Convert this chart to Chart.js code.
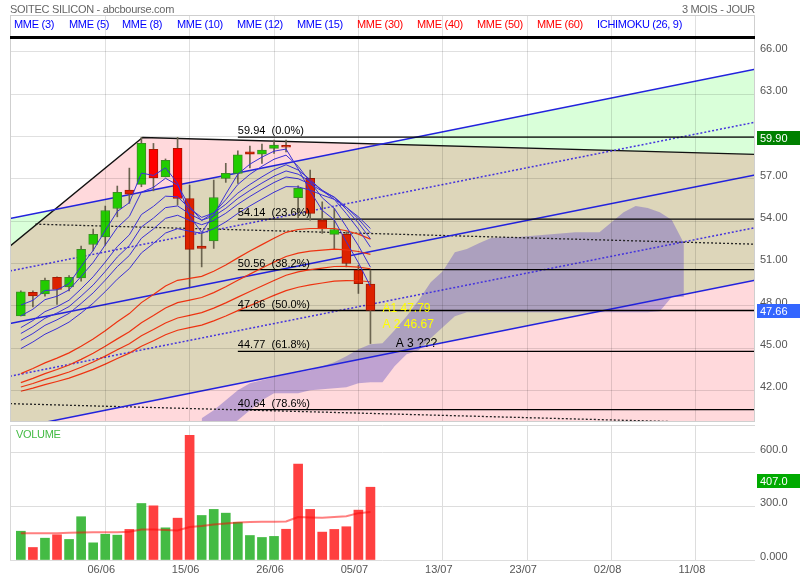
<!DOCTYPE html>
<html lang="fr">
<head>
<meta charset="utf-8">
<title>SOITEC SILICON</title>
<script src="https://cdn.jsdelivr.net/npm/chart.js@4.4.1/dist/chart.umd.min.js"></script>
<style>
  html, body { margin: 0; padding: 0; background: #fff; }
  #page { position: relative; width: 800px; height: 580px; overflow: hidden; font-family: "Liberation Sans", Arial, sans-serif; }
  canvas { position: absolute; left: 0; }
  #price { top: 0; }
  #volume { top: 424px; }
  .lbl { position: absolute; font-size: 11px; line-height: 12px; white-space: nowrap; letter-spacing: -0.3px; }
</style>
</head>
<body>
<div id="page">
  <canvas id="price" width="800" height="424"></canvas>
  <canvas id="volume" width="800" height="156"></canvas>
  <div class="lbl" style="left:10px;top:3px;color:#666">SOITEC SILICON - abcbourse.com</div>
  <div class="lbl" style="right:45px;top:3px;color:#666">3 MOIS - JOUR</div>
  <div class="lbl" style="left:16px;top:428px;color:#44bb44">VOLUME</div>
  <div id="legend"></div>
</div>
<script>
// axes
const dateLabels = ['06/06', '15/06', '26/06', '05/07', '13/07', '23/07', '02/08', '11/08'];
const gridDays = [7, 14, 21, 28, 35, 42, 49, 56];
const priceTicks = [42, 45, 48, 51, 54, 57, 60, 63, 66];
const volTicks = [0, 300, 600];
const volTickLabels = ['0.000', '300.0', '600.0'];

// bougies (30 seances)
const opens  = [47.28, 48.94, 48.84, 50.02, 49.33, 49.97, 52.34, 52.88, 54.89, 56.19, 56.60, 59.08, 57.13, 59.15, 55.60, 52.22, 52.60, 57.02, 57.38, 58.91, 58.74, 59.15, 59.36, 55.65, 57.02, 54.06, 53.05, 53.05, 50.52, 49.53];
const highs  = [49.05, 49.05, 49.95, 50.05, 50.14, 52.22, 53.43, 55.06, 56.48, 57.75, 59.94, 59.50, 58.40, 59.93, 56.55, 53.16, 56.90, 58.09, 58.98, 59.31, 59.45, 59.74, 59.74, 56.50, 57.61, 55.36, 54.89, 53.23, 50.87, 50.52];
const lows   = [47.28, 47.91, 48.67, 48.10, 49.05, 49.74, 51.89, 52.29, 54.30, 55.25, 56.43, 56.14, 57.13, 55.13, 49.33, 50.75, 52.06, 56.74, 56.67, 57.77, 58.09, 58.79, 58.90, 54.18, 54.06, 53.12, 51.99, 50.75, 48.87, 45.32];
const closes = [48.98, 48.70, 49.79, 49.15, 50.02, 51.99, 53.05, 54.75, 56.03, 55.91, 59.50, 57.06, 58.30, 55.60, 51.99, 52.06, 55.67, 57.38, 58.70, 58.74, 59.03, 59.38, 59.24, 56.31, 54.54, 53.45, 53.40, 50.99, 49.57, 47.66];
const brightRed = [11, 13];

// volumes
const volumes = [161, 70, 122, 141, 115, 242, 96, 144, 139, 171, 316, 303, 180, 234, 697, 249, 283, 262, 210, 137, 126, 132, 172, 537, 283, 156, 171, 186, 279, 407];
const volMA   = [150, 150, 150, 150, 152, 154, 155, 155, 155, 158, 170, 170, 168, 165, 185, 190, 198, 204, 210, 213, 214, 214, 215, 240, 238, 236, 240, 245, 262, 268];

// moyennes mobiles exponentielles
const mme3  = [48.05, 48.38, 49.08, 49.12, 49.57, 50.78, 51.92, 53.33, 54.68, 55.30, 57.40, 57.23, 57.77, 56.68, 54.34, 53.20, 54.43, 55.91, 57.32, 58.03, 58.53, 58.95, 59.10, 57.70, 56.12, 54.76, 54.08, 52.53, 51.05, 49.36];
const mme5  = [47.28, 47.75, 48.43, 48.67, 49.12, 50.08, 51.07, 52.30, 53.54, 54.33, 56.05, 56.39, 57.03, 56.55, 55.03, 54.04, 54.58, 55.51, 56.59, 57.31, 57.88, 58.38, 58.67, 57.88, 56.77, 55.65, 54.90, 53.60, 52.26, 50.73];
const mme8  = [46.45, 46.95, 47.58, 47.93, 48.39, 49.19, 50.05, 51.09, 52.19, 53.02, 54.46, 55.04, 55.76, 55.72, 54.89, 54.26, 54.57, 55.19, 55.98, 56.59, 57.13, 57.63, 57.99, 57.62, 56.94, 56.15, 55.54, 54.53, 53.43, 52.15];
const mme10 = [46.03, 46.52, 47.11, 47.48, 47.94, 48.68, 49.47, 50.43, 51.45, 52.26, 53.58, 54.21, 54.95, 55.07, 54.51, 54.06, 54.35, 54.90, 55.60, 56.17, 56.69, 57.18, 57.55, 57.32, 56.81, 56.19, 55.68, 54.83, 53.87, 52.74];
const mme12 = [45.55, 46.03, 46.61, 47.00, 47.46, 48.16, 48.91, 49.81, 50.77, 51.56, 52.78, 53.44, 54.19, 54.41, 54.04, 53.74, 54.04, 54.55, 55.19, 55.74, 56.25, 56.73, 57.12, 57.00, 56.62, 56.12, 55.70, 54.98, 54.15, 53.15];
const mme15 = [44.96, 45.43, 45.98, 46.38, 46.84, 47.48, 48.18, 49.00, 49.88, 50.63, 51.74, 52.41, 53.15, 53.46, 53.28, 53.13, 53.45, 53.94, 54.54, 55.07, 55.56, 56.04, 56.44, 56.42, 56.19, 55.84, 55.54, 54.97, 54.30, 53.47];
const mme30 = [43.19, 43.55, 43.95, 44.29, 44.66, 45.13, 45.64, 46.23, 46.86, 47.44, 48.22, 48.79, 49.40, 49.80, 49.94, 50.08, 50.44, 50.89, 51.39, 51.87, 52.33, 52.78, 53.20, 53.40, 53.47, 53.47, 53.47, 53.31, 53.07, 52.72];
const mme40 = [42.55, 42.85, 43.19, 43.48, 43.80, 44.20, 44.63, 45.12, 45.65, 46.15, 46.80, 47.30, 47.84, 48.22, 48.40, 48.58, 48.93, 49.34, 49.80, 50.24, 50.67, 51.09, 51.49, 51.73, 51.87, 51.94, 52.01, 51.96, 51.84, 51.64];
const mme50 = [42.24, 42.49, 42.78, 43.03, 43.30, 43.64, 44.01, 44.43, 44.88, 45.31, 45.87, 46.31, 46.78, 47.13, 47.32, 47.51, 47.83, 48.20, 48.61, 49.01, 49.40, 49.79, 50.16, 50.40, 50.56, 50.67, 50.78, 50.79, 50.74, 50.62];
const mme60 = [41.94, 42.16, 42.41, 42.63, 42.87, 43.17, 43.49, 43.86, 44.26, 44.64, 45.13, 45.52, 45.94, 46.26, 46.45, 46.63, 46.93, 47.27, 47.65, 48.01, 48.37, 48.73, 49.07, 49.31, 49.48, 49.61, 49.74, 49.78, 49.77, 49.70];

// nuage ichimoku, seances 15 a 55
const cloudStart = 15;
const cloudTop    = [40.02, 40.59, 41.30, 42.01, 42.50, 42.72, 42.93, 43.14, 43.28, 43.43, 43.71, 43.99, 44.42, 44.91, 45.27, 45.34, 46.26, 47.26, 48.39, 49.67, 50.45, 51.79, 52.01, 52.43, 52.79, 52.86, 52.86, 52.93, 53.00, 53.07, 53.14, 53.21, 53.21, 53.21, 53.92, 54.63, 55.06, 54.92, 54.63, 54.07, 52.43];
const cloudBottom = [39.17, 39.03, 39.31, 39.88, 40.59, 41.30, 41.79, 41.79, 41.79, 42.01, 42.08, 42.15, 42.22, 42.50, 42.57, 42.57, 43.71, 44.56, 44.84, 45.69, 46.47, 47.26, 47.54, 47.54, 47.54, 47.54, 47.54, 47.54, 47.54, 47.54, 47.54, 47.54, 47.54, 47.54, 47.54, 47.54, 47.54, 47.54, 47.61, 48.61, 48.61];

// canal de regression et eventail
const trendX = [-0.9, 10.1, 60.9];
const channelUpper = [54.18, 56.06, 64.75];
const channelUpperDots = [50.46, 52.34, 61.00];
const channelMid = [46.74, 48.62, 57.26];
const channelLowerDots = [43.00, 44.88, 53.53];
const channelLower = [39.24, 41.12, 49.81];
const fanLine = [52.22, 59.92, 58.72];
const fanDotsHighX = [1.2, 60.9];
const fanDotsHigh = [53.78, 52.36];
const fanDotsLowX = [-0.9, 60.9];
const fanDotsLow = [41.06, 39.63];

// retracements de Fibonacci
const fibStart = 18;
const fibValues = [59.94, 54.14, 50.56, 47.66, 44.77, 40.64];
const fibPct = ['0.0%', '23.6%', '38.2%', '50.0%', '61.8%', '78.6%'];

// objectifs et etiquettes
const targetLabels = ['A1 47.79', 'A 2 46.67', 'A 3 ???'];
const targetValues = [47.79, 46.67, 45.32];
const topRule = 67;
const highMark = 59.90;
const lastPrice = 47.66;
const lastVolume = 407.0;

const X_MIN = -0.9, X_MAX = 60.9;
const FONT = '"Liberation Sans", Arial, sans-serif';

// legende du haut
const legendNames = ['MME (3)', 'MME (5)', 'MME (8)', 'MME (10)', 'MME (12)', 'MME (15)', 'MME (30)', 'MME (40)', 'MME (50)', 'MME (60)', 'ICHIMOKU (26, 9)'];
const legendLeft = [14, 69, 122, 177, 237, 297, 357, 417, 477, 537, 597];
const legendDiv = document.getElementById('legend');
legendNames.forEach((name, k) => {
    const d = document.createElement('div');
    d.className = 'lbl';
    d.style.left = legendLeft[k] + 'px';
    d.style.top = '18px';
    d.style.color = (k >= 6 && k <= 9) ? '#ff0000' : '#0000ff';
    d.textContent = name;
    legendDiv.appendChild(d);
});

Chart.defaults.font.family = FONT;
Chart.defaults.font.size = 11;
Chart.defaults.color = '#555';

const daily = arr => arr.map((y, i) => ({ x: i, y: y }));
const pts = (xs, ys) => ys.map((y, k) => ({ x: xs[k], y: y }));
const line = (data, color, width, order, dash) => ({
    type: 'line', data: data, borderColor: color, borderWidth: width, borderDash: dash || [],
    pointRadius: 0, fill: false, tension: 0, order: order
});
// pas de marge automatique due aux etiquettes
const noPadY = s => { s.width = 45; s.paddingTop = 0; s.paddingBottom = 0; };

const isUp = i => closes[i] >= opens[i];
const bodyFill = closes.map((c, i) => isUp(i) ? '#22cc00' : (brightRed.includes(i) ? '#ff0000' : '#dd2200'));
const bodyEdge = closes.map((c, i) => isUp(i) ? '#3a8f22' : '#a81800');

const priceDatasets = [
    // 0 : zone sous la borne basse du canal
    { type: 'line', data: pts(trendX, channelLower), borderWidth: 0, pointRadius: 0, fill: 'start', backgroundColor: '#ffd9dc', order: 100 },
    // 1 : interieur du canal
    { type: 'line', data: pts(trendX, channelUpper), borderWidth: 0, pointRadius: 0, fill: { target: 0 }, backgroundColor: '#ddd6ba', order: 99 },
    // 2 : eventail vs canal
    { type: 'line', data: pts(trendX, fanLine), borderWidth: 0, pointRadius: 0, fill: { target: 1, above: '#ffd9dc', below: '#d9ffd9' }, order: 98 },
    // 3-4 : nuage ichimoku
    { type: 'line', data: cloudBottom.map((y, k) => ({ x: cloudStart + k, y: y })), borderWidth: 0, pointRadius: 0, fill: false, order: 97 },
    { type: 'line', data: cloudTop.map((y, k) => ({ x: cloudStart + k, y: y })), borderWidth: 0, pointRadius: 0, fill: { target: 3 }, backgroundColor: 'rgba(112,96,196,0.45)', order: 96 },

    line(pts(trendX, channelUpper), '#2222dd', 1.5, 50),
    line(pts(trendX, channelMid), '#2222dd', 1.5, 50),
    line(pts(trendX, channelLower), '#2222dd', 1.5, 50),
    line(pts(trendX, channelUpperDots), '#4433dd', 1.5, 50, [2, 2]),
    line(pts(trendX, channelLowerDots), '#4433dd', 1.5, 50, [2, 2]),
    line(pts(trendX, fanLine), '#111', 1.3, 50),
    line(pts(fanDotsHighX, fanDotsHigh), '#222', 1.3, 50, [2, 2]),
    line(pts(fanDotsLowX, fanDotsLow), '#222', 1.3, 50, [2, 2])
];

fibValues.forEach(v => priceDatasets.push(line([{ x: fibStart, y: v }, { x: X_MAX, y: v }], '#000', 1.3, 45)));

// meches puis corps
priceDatasets.push({
    type: 'bar', data: highs.map((h, i) => ({ x: i, y: [lows[i], h] })),
    backgroundColor: '#6b6450', barThickness: 1, grouped: false, order: 40
});
priceDatasets.push({
    type: 'bar', data: opens.map((o, i) => ({ x: i, y: [o, closes[i]] })),
    backgroundColor: bodyFill, borderColor: bodyEdge, borderWidth: 1, borderSkipped: false,
    barThickness: 9, grouped: false, order: 39
});

[mme30, mme40, mme50, mme60].forEach(m => priceDatasets.push(line(daily(m), '#ee3311', 1.2, 30)));
[mme3, mme5, mme8, mme10, mme12, mme15].forEach(m => priceDatasets.push(line(daily(m), '#3a2fd6', 1, 20)));

function axisBox(ctx, yPix, color, text) {
    ctx.fillStyle = color;
    ctx.fillRect(757, Math.round(yPix) - 7, 43, 14);
    ctx.fillStyle = '#fff';
    ctx.font = '11px ' + FONT;
    ctx.textAlign = 'left';
    ctx.textBaseline = 'middle';
    ctx.fillText(text, 760, Math.round(yPix) + 0.5);
}

const priceOverlay = {
    id: 'priceOverlay',
    afterDraw(chart) {
        const { ctx, chartArea: a } = chart;
        const x = chart.scales.x, y = chart.scales.y;
        ctx.save();
        ctx.strokeStyle = '#cfcfcf';
        ctx.lineWidth = 1;
        ctx.strokeRect(a.left + 0.5, a.top + 0.5, a.right - a.left - 1, a.bottom - a.top - 1);

        ctx.strokeStyle = '#000';
        ctx.lineWidth = 3;
        ctx.beginPath();
        ctx.moveTo(a.left, y.getPixelForValue(topRule));
        ctx.lineTo(a.right, y.getPixelForValue(topRule));
        ctx.stroke();

        ctx.fillStyle = '#000';
        ctx.font = '11px ' + FONT;
        ctx.textAlign = 'left';
        ctx.textBaseline = 'alphabetic';
        fibValues.forEach((v, k) => {
            ctx.fillText(v.toFixed(2) + '  (' + fibPct[k] + ')', x.getPixelForValue(fibStart), y.getPixelForValue(v) - 3);
        });

        ctx.font = '12px ' + FONT;
        ctx.textBaseline = 'middle';
        targetLabels.forEach((t, k) => {
            ctx.fillStyle = k < 2 ? '#ffff00' : '#000';
            const xi = k < 2 ? 30.0 : 31.1;
            ctx.fillText(t, x.getPixelForValue(xi), y.getPixelForValue(targetValues[k]));
        });

        axisBox(ctx, y.getPixelForValue(highMark), '#008000', highMark.toFixed(2));
        axisBox(ctx, y.getPixelForValue(lastPrice), '#3366ff', lastPrice.toFixed(2));
        ctx.restore();
    }
};

new Chart(document.getElementById('price'), {
    type: 'bar',
    data: { datasets: priceDatasets },
    options: {
        responsive: false,
        animation: false,
        layout: { autoPadding: false, padding: { left: 10, top: 15, right: 0, bottom: 2 } },
        plugins: { legend: { display: false }, tooltip: { enabled: false } },
        scales: {
            x: {
                type: 'linear', min: X_MIN, max: X_MAX, offset: false,
                afterBuildTicks: s => { s.ticks = gridDays.map(v => ({ value: v })); },
                afterFit: s => { s.height = 0; s.paddingLeft = 0; s.paddingRight = 0; },
                ticks: { display: false },
                grid: { color: 'rgba(0,0,0,0.12)', drawTicks: false, offset: false, z: 1 },
                border: { display: false }
            },
            y: {
                position: 'right', min: 39.76, max: 68.6,
                afterBuildTicks: s => { s.ticks = priceTicks.map(v => ({ value: v })); },
                afterFit: noPadY,
                ticks: {
                    padding: 5, labelOffset: -3, color: '#555',
                    // l'etiquette du plus haut recouvre la graduation voisine
                    callback: v => Math.abs(v - highMark) < 0.5 ? '' : Number(v).toFixed(2)
                },
                grid: { color: 'rgba(0,0,0,0.12)', drawTicks: false, z: 1 },
                border: { display: false }
            }
        }
    },
    plugins: [priceOverlay]
});

const volColors = volumes.map((v, i) => (i === 0 || closes[i] > closes[i - 1]) ? '#44bb44' : '#ff4040');

const volOverlay = {
    id: 'volOverlay',
    afterDraw(chart) {
        const { ctx, chartArea: a } = chart;
        ctx.save();
        ctx.strokeStyle = '#d8d8d8';
        ctx.lineWidth = 1;
        ctx.beginPath();
        ctx.moveTo(a.left + 0.5, a.bottom);
        ctx.lineTo(a.left + 0.5, a.top + 0.5);
        ctx.lineTo(a.right, a.top + 0.5);
        ctx.stroke();
        axisBox(ctx, chart.scales.y.getPixelForValue(lastVolume) - 6, '#00aa00', lastVolume.toFixed(1));
        ctx.restore();
    }
};

new Chart(document.getElementById('volume'), {
    type: 'bar',
    data: {
        datasets: [
            { type: 'line', data: daily(volMA), borderColor: 'rgba(255,0,0,0.5)', borderWidth: 2, pointRadius: 0, fill: false, tension: 0, order: 1 },
            { type: 'bar', data: daily(volumes), backgroundColor: volColors, barThickness: 9, grouped: false, order: 2 }
        ]
    },
    options: {
        responsive: false,
        animation: false,
        layout: { autoPadding: false, padding: { left: 10, top: 1, right: 0, bottom: 0 } },
        plugins: { legend: { display: false }, tooltip: { enabled: false } },
        scales: {
            x: {
                type: 'linear', min: X_MIN, max: X_MAX, offset: false,
                afterBuildTicks: s => { s.ticks = gridDays.map(v => ({ value: v })); },
                afterFit: s => { s.height = 20; s.paddingLeft = 0; s.paddingRight = 0; },
                ticks: { padding: 3, labelOffset: -4, maxRotation: 0, autoSkip: false, color: '#555', callback: v => dateLabels[gridDays.indexOf(v)] },
                grid: { color: '#dddddd', drawTicks: false, offset: false },
                border: { display: false }
            },
            y: {
                position: 'right', min: 0, max: 755,
                afterBuildTicks: s => { s.ticks = volTicks.map(v => ({ value: v })); },
                afterFit: noPadY,
                ticks: { padding: 5, labelOffset: -3, color: '#555', callback: v => volTickLabels[volTicks.indexOf(v)] },
                grid: { color: '#dddddd', drawTicks: false },
                border: { display: false }
            }
        }
    },
    plugins: [volOverlay]
});
</script>
</body>
</html>
